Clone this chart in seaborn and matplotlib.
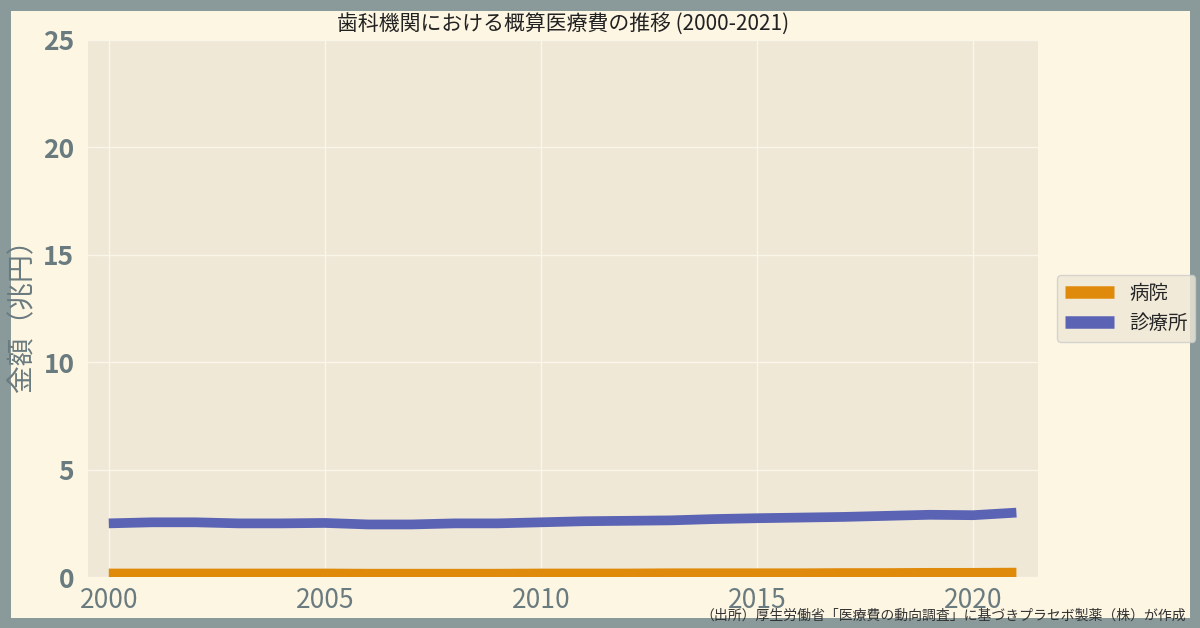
import matplotlib
matplotlib.use("Agg")
import matplotlib.pyplot as plt
import seaborn as sns
import pandas as pd

years = list(range(2000, 2022))
hospital = [0.17,0.17,0.17,0.17,0.17,0.17,0.16,0.16,0.16,0.16,0.17,0.17,0.17,0.18,0.18,0.18,0.18,0.19,0.19,0.2,0.2,0.21]
clinic = [2.5,2.55,2.55,2.5,2.5,2.52,2.45,2.45,2.5,2.5,2.55,2.6,2.62,2.64,2.7,2.74,2.77,2.8,2.85,2.9,2.88,3.0]
series_names = ["病院", "診療所"]

df = pd.DataFrame({"年": years * 2,
                   "金額": hospital + clinic,
                   "区分": [series_names[0]] * len(years) + [series_names[1]] * len(years)})

sns.set_theme(style="darkgrid")
plt.rcParams['font.family'] = ['Noto Sans CJK JP', 'DejaVu Sans']

fig = plt.figure(figsize=(12, 6.28), dpi=100, facecolor="#fdf6e3",
                 edgecolor="#8a9a9a", linewidth=14)
ax = fig.add_axes([0.073, 0.081, 0.792, 0.856])
ax.set_facecolor("#efe8d7")
sns.lineplot(data=df, x="年", y="金額", hue="区分", palette=["#e08a0b", "#5b63b4"],
             linewidth=7, ax=ax)
for l in ax.get_lines():
    l.set_solid_capstyle("butt")
for s in ax.spines.values():
    s.set_visible(False)
ax.set_xlim(1999.51, 2021.5)
ax.set_ylim(0, 25)
ax.set_xticks([2000, 2005, 2010, 2015, 2020])
ax.set_yticks([0, 5, 10, 15, 20, 25])
ax.tick_params(axis='x', labelsize=19, colors="#6a7b80", pad=1)
ax.tick_params(axis='y', labelsize=19, colors="#6a7b80")
for t in ax.get_yticklabels():
    t.set_fontweight("bold")
ax.grid(color="#fbf6ea", linewidth=1)
ax.set_xlabel("")
ax.set_ylabel("金額（兆円）", fontsize=20, color="#6a7b80")
ax.set_title("歯科機関における概算医療費の推移 (2000-2021)", fontsize=15, color="#222222", pad=6)
leg = ax.legend(loc="center left", bbox_to_anchor=(1.01, 0.5), fontsize=14, frameon=True,
                facecolor="#efe8d7", edgecolor="#cccccc", handlelength=2.5)
for l in leg.get_lines():
    l.set_linewidth(9)
    l.set_solid_capstyle("butt")
fig.text(0.988, 0.008, "（出所）厚生労働省「医療費の動向調査」に基づきプラセボ製薬（株）が作成",
         ha="right", va="bottom", fontsize=10, color="#333333")
fig.savefig("out.png", facecolor=fig.get_facecolor(), edgecolor=fig.get_edgecolor())
